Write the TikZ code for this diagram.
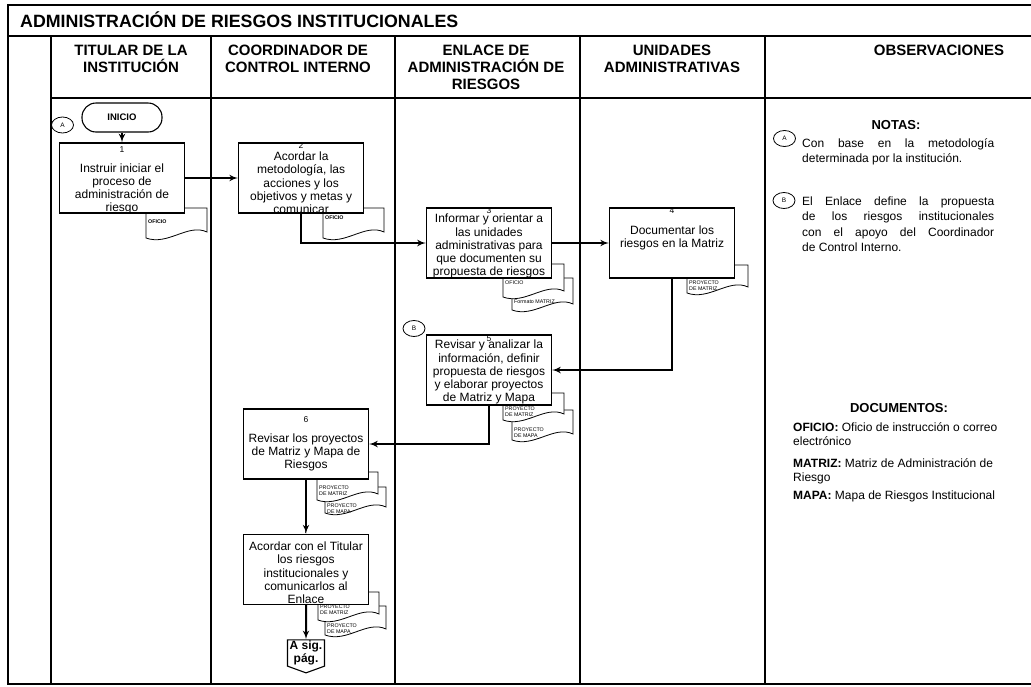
\documentclass[tikz,border=0pt]{standalone}
\usepackage{fontspec}
\setmainfont{Liberation Sans}
\usepackage{tikz}
\usetikzlibrary{arrows, positioning, shapes}

\newcommand{\numfont}{\fontsize{8.5}{9}\selectfont}
% document symbol: name, x, y (top left), height, label top, label
\newcommand{\docu}[6]{%
  \begin{scope}[shift={(#2,#3)}]
    \draw [docline] (0,0) -- (61,0) -- (61,#4-6) .. controls (42,#4-15) and (22,#4+8) .. (0,#4) -- cycle;
  \end{scope}
  \node [doclabel, anchor=north west] (#1) at (#2+2,#5) {#6};
}

\tikzset{
  frame/.style     = {line width=2.6pt},
  lane/.style      = {line width=1.7pt},
  header/.style    = {align=center, inner sep=0pt, font=\bfseries\fontsize{15}{17}\selectfont},
  stepbox/.style   = {draw, line width=1.1pt, fill=white, minimum width=125pt, minimum height=70pt, inner sep=0pt},
  steptext/.style  = {align=center, inner sep=0pt, font=\fontsize{12}{13.2}\selectfont},
  docline/.style   = {draw, fill=white, line width=0.8pt},
  doclabel/.style  = {align=left, inner sep=0pt, font=\fontsize{5.3}{5.8}\selectfont},
  noteball/.style  = {draw, ellipse, line width=0.8pt, minimum width=22pt, minimum height=16pt, inner sep=0pt, font=\fontsize{6.5}{7}\selectfont},
  notetext/.style  = {text width=192pt, align=justify, inner sep=0pt, font=\fontsize{12}{15.4}\selectfont,
                      execute at begin node={\tolerance=10000 \hyphenpenalty=10000}},
  doctext/.style   = {align=left, inner sep=0pt, font=\fontsize{12}{14}\selectfont},
  flow/.style      = {draw, line width=2pt, -latex'},
}

\begin{document}
\begin{tikzpicture}[x=1pt, y=-1pt]

\useasboundingbox (0,0) rectangle (1031,686);

% lanes
\draw [frame] (1031,5) -- (8,5) -- (8,684) -- (1031,684);
\draw [lane] (8,36) -- (1031,36);
\draw [lane] (51,98) -- (1031,98);
\foreach \x in {51,211,395,580,765}
  \draw [lane] (\x,36) -- (\x,684);

\node [anchor=base west, inner sep=0pt, font=\bfseries\fontsize{17.8}{20}\selectfont] (title) at (20,27.8) {ADMINISTRACIÓN DE RIESGOS INSTITUCIONALES};

\node [header] (titular)  at (131,58.5) {TITULAR DE LA\\INSTITUCIÓN};
\node [header] (coord)    at (298,58.5) {COORDINADOR DE\\CONTROL INTERNO};
\node [header] (enlace)   at (486,67)   {ENLACE DE\\ADMINISTRACIÓN DE\\RIESGOS};
\node [header] (unidades) at (672,58.5) {UNIDADES\\ADMINISTRATIVAS};
\node [header] (obs)      at (939,50)   {OBSERVACIONES};

% documents
\docu{d1}{146}{208}{30}{220}{\textbf{OFICIO}}
\docu{d2}{323}{208}{30}{216}{\textbf{OFICIO}}
\docu{d3b}{512}{278}{32}{300}{Formato MATRIZ}
\docu{d3a}{503}{264}{33}{281}{OFICIO}
\docu{d4}{687}{265}{28}{281}{PROYECTO\\DE MATRIZ}
\docu{d5b}{512}{410}{30}{428}{PROYECTO\\DE MAPA}
\docu{d5a}{503}{393}{27}{407}{PROYECTO\\DE MATRIZ}
\docu{d6b}{325}{487}{26}{504}{PROYECTO\\DE MAPA}
\docu{d6a}{317}{472}{28}{486}{PROYECTO\\DE MATRIZ}
\docu{d7b}{325}{606}{29}{624}{PROYECTO\\DE MAPA}
\docu{d7a}{318}{592}{28}{605}{PROYECTO\\DE MATRIZ}

% steps
\node [draw, rounded corners=14pt, line width=1.1pt, minimum width=80pt, minimum height=29pt, inner sep=0pt,
       font=\bfseries\fontsize{9.5}{10}\selectfont] (inicio) at (122,117.5) {INICIO};
\node [noteball] (ca) at (62.5,125)  {A};
\node [noteball] (cb) at (414,328.5) {B};

\node [stepbox                    ] (s1) at (122,178) {};
\node [stepbox, right=53pt of s1  ] (s2) {};
\node [stepbox                    ] (s3) at (489,243) {};
\node [stepbox, right=57pt of s3  ] (s4) {};
\node [stepbox                    ] (s5) at (489,370) {};
\node [stepbox                    ] (s6) at (306,444) {};
\node [stepbox, below=54pt of s6  ] (s7) {};

\node [steptext, yshift=-2.3pt] (t1) at (s1) {{\numfont 1}\\[7.1pt]Instruir iniciar el\\proceso de\\administración de\\riesgo};
\node [steptext               ] (t2) at (s2) {{\numfont 2}\\[-0.9pt]Acordar la\\metodología, las\\acciones y los\\objetivos y metas y\\comunicar};
\node [steptext               ] (t3) at (s3) {{\numfont 3}\\[-3.9pt]Informar y orientar a\\las unidades\\administrativas para\\que documenten su\\propuesta de riesgos};
\node [steptext, yshift=14pt  ] (t4) at (s4) {{\numfont 4}\\[8.1pt]Documentar los\\riesgos en la Matriz};
\node [steptext               ] (t5) at (s5) {{\numfont 5}\\[-5.9pt]Revisar y analizar la\\información, definir\\propuesta de riesgos\\y elaborar proyectos\\de Matriz y Mapa};
\node [steptext               ] (t6) at (s6) {{\numfont 6}\\[6.1pt]Revisar los proyectos\\de Matriz y Mapa de\\Riesgos};
\node [steptext, yshift=3.5pt ] (t7) at (s7) {{\numfont 7}\\[4.1pt]Acordar con el Titular\\los riesgos\\institucionales y\\comunicarlos al\\Enlace};

\node [draw, signal, signal to=south, signal pointer angle=140, line width=1.1pt, fill=white,
       minimum width=37pt, minimum height=27pt, inner sep=1pt, align=center,
       font=\bfseries\fontsize{12}{13}\selectfont] (sig) at (306,653) {A sig.\\pág.};

\draw [flow] (inicio)   -- (s1);
\draw [flow] (s1)       -- (s2);
\draw [flow] (s2.south) |- (s3.west);
\draw [flow] (s3)       -- (s4);
\draw [flow] (s4.south) |- (s5.east);
\draw [flow] (s5.south) |- (s6.east);
\draw [flow] (s6)       -- (s7);
\draw [flow] (s7)       -- (sig);

% observaciones
\node [inner sep=0pt, font=\bfseries\fontsize{13}{15}\selectfont] (notas) at (896,125) {NOTAS:};
\node [noteball] (na) at (784.5,138.5) {A};
\node [noteball] (nb) at (784,200.5)   {B};
\node [notetext, anchor=north west] (nota_a) at (802,138) {Con base en la metodología\linebreak determinada por la institución.};
\node [notetext, anchor=north west] (nota_b) at (802,196.4) {El Enlace define la propuesta\linebreak de los riesgos institucionales\linebreak con el apoyo del Coordinador\linebreak de Control Interno.};

\node [inner sep=0pt, font=\bfseries\fontsize{13}{15}\selectfont] (documentos) at (899,408) {DOCUMENTOS:};
\node [doctext, anchor=north west] (doc_oficio) at (793,422)   {\textbf{OFICIO:} Oficio de instrucción o correo\\electrónico};
\node [doctext, anchor=north west] (doc_matriz) at (793,458)   {\textbf{MATRIZ:} Matriz de Administración de\\Riesgo};
\node [doctext, anchor=north west] (doc_mapa)   at (793,490.4) {\textbf{MAPA:} Mapa de Riesgos Institucional};

\end{tikzpicture}
\end{document}
